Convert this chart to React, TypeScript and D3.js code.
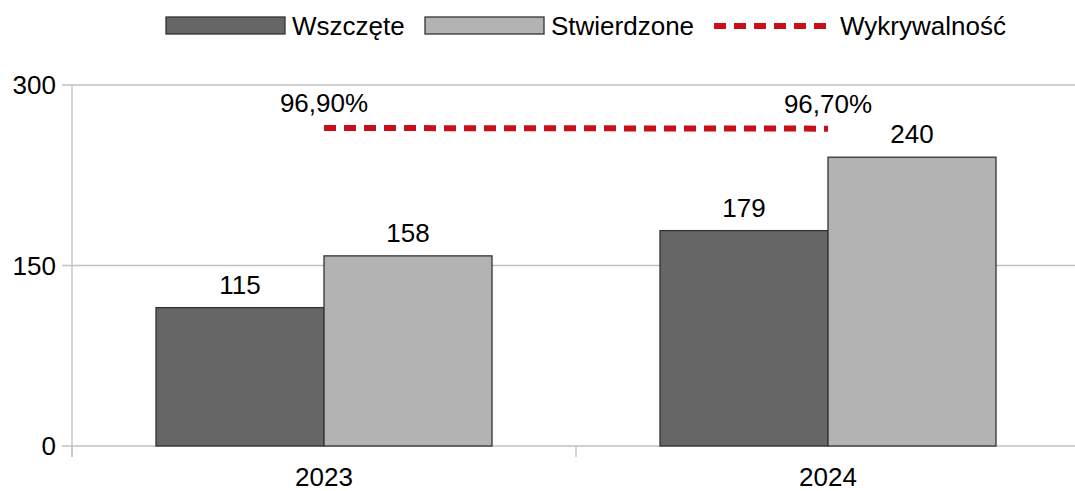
import * as d3 from 'd3';

const years = ['2023', '2024'];
const wszczete = [115, 179];
const stwierdzone = [158, 240];
const wykrywalnosc = [96.9, 96.7];
const yTicks = [0, 150, 300];

const W = 1075;
const H = 491;
const FONT = '"Liberation Sans", Arial, sans-serif';
const RED = '#c8101a';

export default function App() {
  const left = 72;
  const right = 1080; // plot extends slightly past the picture's right edge
  const top = 85;
  const bottom = 446;

  const x = d3.scaleBand<string>().domain(years).range([left, right]).paddingInner(0).paddingOuter(0);
  const inner = d3.scaleBand<string>().domain(['w', 's']).range([0, x.bandwidth()]).paddingOuter(0.5);
  const y = d3.scaleLinear().domain([0, 300]).range([bottom, top]);
  // hidden secondary axis for the percentage line
  const y2 = d3.scaleLinear().domain([0, 110]).range([bottom, top]);

  const lineX = (i: number) => x(years[i])! + x.bandwidth() / 2;
  const line = d3.line<number>()
    .x((_, i) => lineX(i))
    .y(d => y2(d));

  const series = [
    { key: 'w', values: wszczete, fill: '#666666' },
    { key: 's', values: stwierdzone, fill: '#b3b3b3' },
  ];

  const fmtPct = (v: number) => v.toFixed(2).replace('.', ',') + '%';

  return (
    <svg width={W} height={H} style={{ position: 'absolute', left: 0, top: 0, background: '#fff' }} fontFamily={FONT}>
      {/* gridlines */}
      {yTicks.map(t => (
        <g key={t}>
          <line x1={left - 10} x2={W} y1={y(t)} y2={y(t)} stroke="#c0c0c0" strokeWidth={1.3} />
          <text x={left - 16} y={y(t)} dy="0.36em" textAnchor="end" fontSize={26} fill="#000">{t}</text>
        </g>
      ))}
      {/* y axis */}
      <line x1={left} x2={left} y1={top} y2={bottom + 11} stroke="#c0c0c0" strokeWidth={1.3} />
      {/* category ticks */}
      {years.map(yr => x(yr)!).map((px, i) => (
        <line key={i} x1={px} x2={px} y1={bottom} y2={bottom + 11} stroke="#c0c0c0" strokeWidth={1.3} />
      ))}
      {/* bars */}
      {series.map(s =>
        years.map((yr, i) => {
          const bx = x(yr)! + inner(s.key)!;
          const by = y(s.values[i]);
          return (
            <g key={s.key + yr}>
              <rect x={bx} y={by} width={inner.bandwidth()} height={bottom - by} fill={s.fill} stroke="#333333" strokeWidth={1.3} />
              <text x={bx + inner.bandwidth() / 2} y={by - 14} textAnchor="middle" fontSize={26} fill="#000">{s.values[i]}</text>
            </g>
          );
        })
      )}
      {/* percentage line */}
      <path d={line(wykrywalnosc) || ''} fill="none" stroke={RED} strokeWidth={6} strokeDasharray="12,8" />
      {wykrywalnosc.map((v, i) => (
        <text key={i} x={lineX(i)} y={y2(v) - 16} textAnchor="middle" fontSize={26} fill="#000">{fmtPct(v)}</text>
      ))}
      {/* x labels */}
      {years.map(yr => (
        <text key={yr} x={x(yr)! + x.bandwidth() / 2} y={486} textAnchor="middle" fontSize={26} fill="#000">{yr}</text>
      ))}
      {/* legend */}
      <g fontSize={26}>
        <rect x={166} y={17} width={119} height={17} fill="#666666" stroke="#333333" strokeWidth={1.3} />
        <text x={292} y={35} fill="#000">Wszczęte</text>
        <rect x={425} y={17} width={119} height={17} fill="#b3b3b3" stroke="#333333" strokeWidth={1.3} />
        <text x={551} y={35} fill="#000">Stwierdzone</text>
        <line x1={714} x2={834} y1={26} y2={26} stroke={RED} strokeWidth={6} strokeDasharray="12,8" />
        <text x={840} y={35} fill="#000">Wykrywalność</text>
      </g>
    </svg>
  );
}
